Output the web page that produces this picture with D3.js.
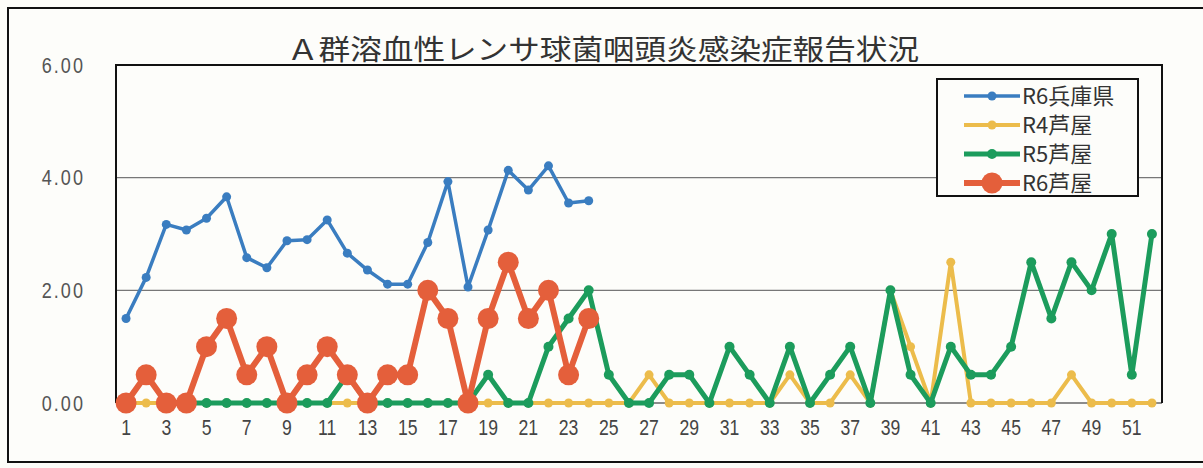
<!DOCTYPE html>
<html><head><meta charset="utf-8">
<script src="https://cdn.jsdelivr.net/npm/d3@7"></script>
<style>
body{margin:0;background:#fcfcf8;}
svg{display:block;}
</style></head>
<body>
<svg id="c" width="1203" height="468"></svg>
<script>
const weeks = d3.range(1, 53);
const yTicks = [0, 2, 4, 6];
const seriesNames = ["R6兵庫県", "R4芦屋", "R5芦屋", "R6芦屋"];
const hyogoR6 = [1.5,2.23,3.17,3.07,3.28,3.66,2.58,2.40,2.88,2.90,3.25,2.66,2.36,2.11,2.11,2.85,3.93,2.06,3.07,4.13,3.78,4.21,3.55,3.59];
const ashiyaR4 = [0,0,0,0,0,0,0,0,0,0,0,0,0,0,0,0,0,0,0,0,0,0,0,0,0,0,
  0.5,0,0,0,0,0,0,0.5,0,0,0.5,0,2.0,1.0,0,2.5,0,0,0,0,0,0.5,0,0,0,0];
const ashiyaR5 = [null,null,null,0,0,0,0,0,0,0,0,0.5,0,0,0,0,0,0,0.5,0,0,1.0,1.5,2.0,0.5,0,
  0,0.5,0.5,0,1.0,0.5,0,1.0,0,0.5,1.0,0,2.0,0.5,0,1.0,0.5,0.5,1.0,2.5,1.5,2.5,2.0,3.0,0.5,3.0];
const ashiyaR6 = [0,0.5,0,0,1,1.5,0.5,1,0,0.5,1,0.5,0,0.5,0.5,2,1.5,0,1.5,2.5,1.5,2,0.5,1.5];

const svg = d3.select("#c");
const L = 116, R = 1162, T = 65, B = 403;

// outer frame
svg.append("rect").attr("x", 8).attr("y", 8).attr("width", 1210).attr("height", 454)
  .attr("fill", "#fdfdfa").attr("stroke", "#111").attr("stroke-width", 2);

const x = d3.scaleBand().domain(weeks).range([L, R]);
const y = d3.scaleLinear().domain([0, 6]).range([B, T]);
const cx = w => x(w) + x.bandwidth() / 2;

// gridlines
svg.append("g").selectAll("line").data(yTicks.filter(t => t > 0 && t < 6)).join("line")
  .attr("x1", L).attr("x2", R).attr("y1", d => y(d)).attr("y2", d => y(d))
  .attr("stroke", "#777").attr("stroke-width", 1.3);
// baseline
svg.append("line").attr("x1", L).attr("x2", R).attr("y1", y(0)).attr("y2", y(0))
  .attr("stroke", "#666").attr("stroke-width", 1.3);
// plot frame (left/top/right)
svg.append("path").attr("d", `M${L},${B}V${T}H${R}V${B}`)
  .attr("fill", "none").attr("stroke", "#111").attr("stroke-width", 2);

// y axis labels
const yAxis = d3.axisLeft(y).tickValues(yTicks).tickFormat(d3.format(".2f")).tickSize(0).tickPadding(0);
const gy = svg.append("g").attr("transform", `translate(85,0)`).call(yAxis);
gy.select(".domain").remove();
gy.selectAll("text").attr("font-family", "'Liberation Sans',sans-serif")
  .attr("font-size", 22).attr("fill", "#555").attr("letter-spacing", 2.5)
  .attr("transform", "scale(0.82,1)");

// x axis labels
const xAxis = d3.axisBottom(x).tickValues(weeks.filter(w => w % 2 === 1)).tickSize(0).tickPadding(0);
const gx = svg.append("g").attr("transform", `translate(0,${B + 16})`).call(xAxis);
gx.select(".domain").remove();
gx.selectAll("text").attr("font-family", "'Liberation Sans',sans-serif")
  .attr("font-size", 22).attr("fill", "#444").attr("transform", "scale(0.8,1)");

// series
const series = [
  {name: seriesNames[0], data: hyogoR6, color: "#3a7dc0", lw: 3.5, r: 4.5},
  {name: seriesNames[1], data: ashiyaR4, color: "#ecbc4b", lw: 4, r: 4.5},
  {name: seriesNames[2], data: ashiyaR5, color: "#1c9c5c", lw: 5, r: 5},
  {name: seriesNames[3], data: ashiyaR6, color: "#e45f3b", lw: 6, r: 10.5}
];
const line = d3.line().defined(d => d.v != null).x(d => cx(d.w)).y(d => y(d.v));
series.forEach(s => {
  const pts = s.data.map((v, i) => ({w: weeks[i], v}));
  const g = svg.append("g");
  g.append("path").datum(pts).attr("d", line).attr("fill", "none")
    .attr("stroke", s.color).attr("stroke-width", s.lw).attr("stroke-linejoin", "round");
  g.selectAll("circle").data(pts.filter(d => d.v != null)).join("circle")
    .attr("cx", d => cx(d.w)).attr("cy", d => y(d.v)).attr("r", s.r).attr("fill", s.color);
});

// title
svg.append("text").attr("x", 603).attr("y", 60).attr("text-anchor", "middle")
  .attr("font-family", "'Noto Sans CJK JP',sans-serif").attr("font-size", 28).attr("fill", "#333")
  .attr("textLength", 632).attr("lengthAdjust", "spacingAndGlyphs")
  .text("Ａ群溶血性レンサ球菌咽頭炎感染症報告状況");

// legend
const lg = svg.append("g");
lg.append("rect").attr("x", 937).attr("y", 79).attr("width", 201).attr("height", 117)
  .attr("fill", "#fdfdfa").attr("stroke", "#111").attr("stroke-width", 2);
const rowY = [96, 125, 154, 183];
series.forEach((s, i) => {
  const yy = rowY[i];
  lg.append("line").attr("x1", 964).attr("x2", 1020).attr("y1", yy).attr("y2", yy)
    .attr("stroke", s.color).attr("stroke-width", s.lw);
  lg.append("circle").attr("cx", 992).attr("cy", yy).attr("r", s.r).attr("fill", s.color);
  lg.append("text").attr("x", 1022).attr("y", yy).attr("dy", "0.36em")
    .attr("font-family", "'Noto Sans CJK JP',sans-serif").attr("font-size", 22).attr("fill", "#333")
    .text(s.name);
});
</script>
</body></html>
